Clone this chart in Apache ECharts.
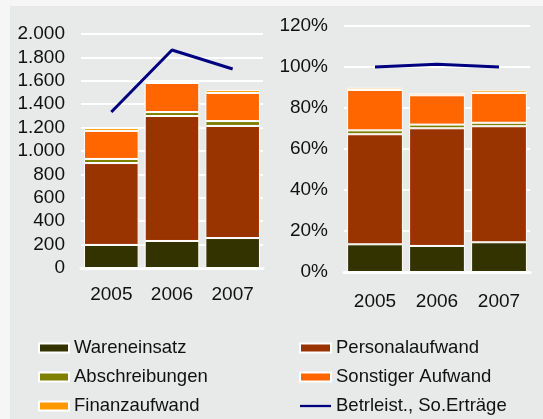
<!DOCTYPE html>
<html>
<head>
<meta charset="utf-8">
<script src="https://cdn.jsdelivr.net/npm/echarts@6/dist/echarts.min.js"></script>
<style>
  html, body { margin: 0; padding: 0; background: #f6f6f6; }
  #chart { width: 543px; height: 419px; }
</style>
</head>
<body>
<div id="chart"></div>
<script>
// Jahre
const years = ['2005', '2006', '2007'];

// absolute Werte (linkes Diagramm)
const wareneinsatz = [197, 231, 256];
const personalaufwand = [700, 1068, 958];
const abschreibungen = [35, 34, 42];
const sonstigerAufwand = [240, 248, 240];
const finanzaufwand = [25, 17, 25];
const betrleist = [1333, 1863, 1701];

// Anteile in % (rechtes Diagramm)
const wareneinsatzPct = [13.5, 12.7, 14.5];
const personalaufwandPct = [53.7, 57.4, 56.6];
const abschreibungenPct = [1.9, 1.8, 1.7];
const sonstigerAufwandPct = [19.7, 14.3, 14.5];
const finanzaufwandPct = [1.1, 1.0, 1.3];
const betrleistPct = [100, 101.3, 100];

const leftTicks = [0, 2000, 200];
const rightTicks = [0, 120, 20];

const colors = {
    'Wareneinsatz': '#333300',
    'Personalaufwand': '#993300',
    'Abschreibungen': '#808000',
    'Sonstiger Aufwand': '#ff6600',
    'Finanzaufwand': '#ff9900',
    'Betrleist., So.Erträge': '#000080'
};

const fontFamily = '"Liberation Sans", Arial, sans-serif';

function barSeries(name, data, idx) {
    return {
        name: name,
        type: 'bar',
        stack: 'stack' + idx,
        xAxisIndex: idx,
        yAxisIndex: idx,
        data: data,
        barCategoryGap: '10%',
        itemStyle: {
            color: colors[name],
            borderColor: '#ffffff',
            borderWidth: 1
        }
    };
}

function lineSeries(name, data, idx) {
    return {
        name: name,
        type: 'line',
        xAxisIndex: idx,
        yAxisIndex: idx,
        data: data,
        symbol: 'none',
        z: 5,
        lineStyle: { color: colors[name], width: 3 },
        itemStyle: { color: colors[name] }
    };
}

function xAxis(gridIndex, margin) {
    return {
        type: 'category',
        gridIndex: gridIndex,
        data: years,
        axisLine: { lineStyle: { color: '#ffffff', width: 3 } },
        axisTick: { show: false },
        axisLabel: { color: '#111', fontSize: 19, fontFamily: fontFamily, margin: margin }
    };
}

function yAxis(gridIndex, ticks, formatter) {
    return {
        type: 'value',
        gridIndex: gridIndex,
        min: ticks[0],
        max: ticks[1],
        interval: ticks[2],
        axisLine: { show: false },
        axisTick: { show: false },
        splitLine: { lineStyle: { color: '#ffffff', width: 2 } },
        axisLabel: { color: '#111', fontSize: 19, fontFamily: fontFamily, margin: 16, formatter: formatter }
    };
}

const legendText = { color: '#111', fontSize: 18.5, fontFamily: fontFamily, lineHeight: 20 };

var option = {
    backgroundColor: '#f6f6f6',
    animation: false,
    graphic: [{
        type: 'rect',
        z: -10,
        shape: { x: 10, y: 6, width: 533, height: 413 },
        style: { fill: '#e8e9e9' }
    }],
    grid: [
        { left: 81, right: 280, top: 34, bottom: 151 },
        { left: 344, right: 13, top: 26, bottom: 147 }
    ],
    xAxis: [xAxis(0, 17), xAxis(1, 20)],
    yAxis: [
        yAxis(0, leftTicks, function (v) { return v.toLocaleString('de-DE'); }),
        yAxis(1, rightTicks, '{value}%')
    ],
    legend: [
        {
            left: 38, top: 338, orient: 'vertical', itemGap: 9, padding: 0,
            itemWidth: 30, itemHeight: 9, icon: 'rect',
            textStyle: legendText,
            data: ['Wareneinsatz', 'Abschreibungen', 'Finanzaufwand']
        },
        {
            left: 299, top: 338, orient: 'vertical', itemGap: 9, padding: 0,
            itemWidth: 31, itemHeight: 9,
            textStyle: legendText,
            data: [
                { name: 'Personalaufwand', icon: 'rect' },
                { name: 'Sonstiger Aufwand', icon: 'rect' },
                { name: 'Betrleist., So.Erträge', icon: 'path://M0,4 L34,4 L34,6.5 L0,6.5 Z' }
            ]
        }
    ],
    series: [
        barSeries('Wareneinsatz', wareneinsatz, 0),
        barSeries('Personalaufwand', personalaufwand, 0),
        barSeries('Abschreibungen', abschreibungen, 0),
        barSeries('Sonstiger Aufwand', sonstigerAufwand, 0),
        barSeries('Finanzaufwand', finanzaufwand, 0),
        lineSeries('Betrleist., So.Erträge', betrleist, 0),
        barSeries('Wareneinsatz', wareneinsatzPct, 1),
        barSeries('Personalaufwand', personalaufwandPct, 1),
        barSeries('Abschreibungen', abschreibungenPct, 1),
        barSeries('Sonstiger Aufwand', sonstigerAufwandPct, 1),
        barSeries('Finanzaufwand', finanzaufwandPct, 1),
        lineSeries('Betrleist., So.Erträge', betrleistPct, 1)
    ]
};

var chart = echarts.init(document.getElementById('chart'));
chart.setOption(option);
</script>
</body>
</html>
